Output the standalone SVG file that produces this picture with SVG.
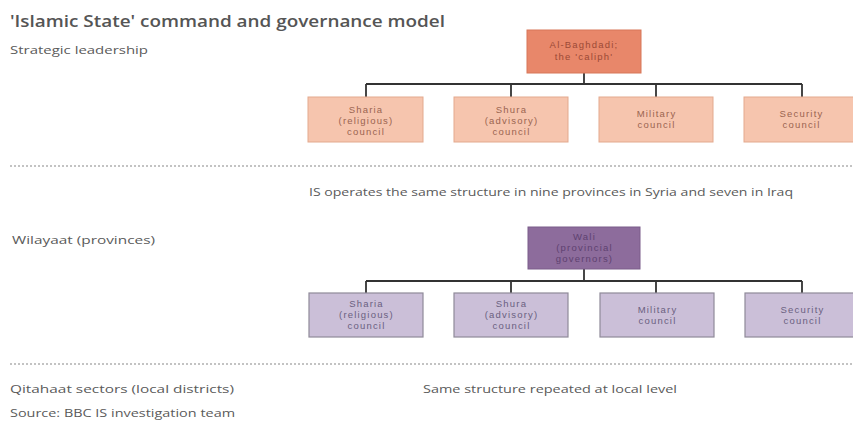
<svg xmlns="http://www.w3.org/2000/svg" width="853" height="427" viewBox="0 0 853 427">
<style>
text{font-family:"Open Sans","Liberation Sans",sans-serif;}
.title{font-size:16px;font-weight:600;fill:#555;}
.lab{font-size:11px;fill:#5a5a5a;}
.bx{font-family:"Liberation Sans",Arial,sans-serif;font-size:9.5px;letter-spacing:1.2px;text-anchor:middle;}
.top1{fill:#e8876a;stroke:#d77758;stroke-width:1;}
.top1t{fill:#9c4a36;}
.c1{fill:#f6c5ae;stroke:#e3a98e;stroke-width:1;}
.c1t{fill:#9a6450;}
.top2{fill:#8d6c9c;stroke:#7b5c8a;stroke-width:1;}
.top2t{fill:#5e4170;}
.c2{fill:#cbbfd8;stroke:#8f8a99;stroke-width:1.2;}
.c2t{fill:#6a6080;}
.conn{stroke:#333;stroke-width:1.8;fill:none;}
.dot{stroke:#b0b0b0;stroke-width:1.5;stroke-dasharray:2 2;}
</style>
<rect width="853" height="427" fill="#fff"/>
<text class="title" x="10" y="27" textLength="435" lengthAdjust="spacingAndGlyphs">'Islamic State' command and governance model</text>
<text class="lab" x="10" y="54" textLength="138" lengthAdjust="spacingAndGlyphs">Strategic leadership</text>

<g id="connectors">
<path class="conn" d="M584 73V84M366 84H802M366 84V97M511 84V97M656 84V97M802 84V97"/>
<path class="conn" d="M584 269V281M366 281H802M366 281V293M511 281V293M656 281V293M802 281V293"/>
</g>

<g id="baghdadi">
<rect class="top1" x="527" y="30" width="114" height="43"/>
<text class="bx top1t" x="584" y="48">Al-Baghdadi;</text>
<text class="bx top1t" x="584" y="60">the 'caliph'</text>
</g>
<g id="sharia1">
<rect class="c1" x="308" y="97" width="115" height="45"/>
<text class="bx c1t" x="366" y="113">Sharia</text>
<text class="bx c1t" x="366" y="124">(religious)</text>
<text class="bx c1t" x="366" y="135">council</text>
</g>
<g id="shura1">
<rect class="c1" x="454" y="97" width="114" height="45"/>
<text class="bx c1t" x="511.5" y="113">Shura</text>
<text class="bx c1t" x="511.5" y="124">(advisory)</text>
<text class="bx c1t" x="511.5" y="135">council</text>
</g>
<g id="military1">
<rect class="c1" x="599" y="97" width="114" height="45"/>
<text class="bx c1t" x="656.5" y="117">Military</text>
<text class="bx c1t" x="656.5" y="128">council</text>
</g>
<g id="security1">
<rect class="c1" x="744" y="97" width="114" height="45"/>
<text class="bx c1t" x="801.5" y="117">Security</text>
<text class="bx c1t" x="801.5" y="128">council</text>
</g>

<line class="dot" x1="10" y1="166" x2="853" y2="166"/>
<text class="lab" x="309" y="196" textLength="484" lengthAdjust="spacingAndGlyphs">IS operates the same structure in nine provinces in Syria and seven in Iraq</text>
<text class="lab" x="12" y="244" textLength="143" lengthAdjust="spacingAndGlyphs">Wilayaat (provinces)</text>

<g id="wali">
<rect class="top2" x="528" y="227" width="112" height="42"/>
<text class="bx top2t" x="584.5" y="240">Wali</text>
<text class="bx top2t" x="584.5" y="251">(provincial</text>
<text class="bx top2t" x="584.5" y="262">governors)</text>
</g>
<g id="sharia2">
<rect class="c2" x="309" y="293" width="114" height="44"/>
<text class="bx c2t" x="366.5" y="307">Sharia</text>
<text class="bx c2t" x="366.5" y="318">(religious)</text>
<text class="bx c2t" x="366.5" y="329">council</text>
</g>
<g id="shura2">
<rect class="c2" x="454" y="293" width="114" height="44"/>
<text class="bx c2t" x="511.5" y="307">Shura</text>
<text class="bx c2t" x="511.5" y="318">(advisory)</text>
<text class="bx c2t" x="511.5" y="329">council</text>
</g>
<g id="military2">
<rect class="c2" x="600" y="293" width="114" height="44"/>
<text class="bx c2t" x="657.5" y="313">Military</text>
<text class="bx c2t" x="657.5" y="324">council</text>
</g>
<g id="security2">
<rect class="c2" x="745" y="293" width="114" height="44"/>
<text class="bx c2t" x="802.5" y="313">Security</text>
<text class="bx c2t" x="802.5" y="324">council</text>
</g>

<line class="dot" x1="10" y1="364" x2="853" y2="364"/>
<text class="lab" x="10" y="393" textLength="224" lengthAdjust="spacingAndGlyphs">Qitahaat sectors (local districts)</text>
<text class="lab" x="423" y="393" textLength="254" lengthAdjust="spacingAndGlyphs">Same structure repeated at local level</text>
<text class="lab" x="10" y="417" textLength="225" lengthAdjust="spacingAndGlyphs">Source: BBC IS investigation team</text>
</svg>
